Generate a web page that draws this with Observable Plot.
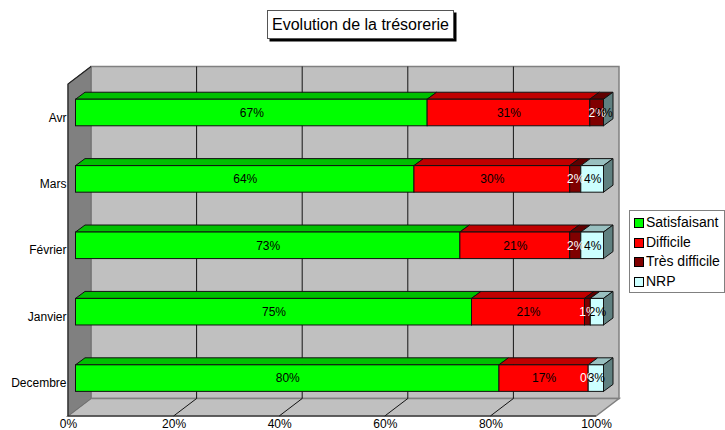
<!DOCTYPE html>
<html><head><meta charset="utf-8">
<script src="https://cdn.jsdelivr.net/npm/d3@7"></script>
<script src="https://cdn.jsdelivr.net/npm/@observablehq/plot@0.6"></script>
<style>
html,body{margin:0;padding:0;background:#fff;overflow:hidden}
body{position:relative;width:725px;height:430px;font-family:"Liberation Sans",Arial,sans-serif;color:#000}
svg{display:block;position:absolute;left:0;top:0}
#title{position:absolute;left:267px;top:10px;width:185px;height:27px;line-height:27px;text-align:center;font-size:16px;border:1px solid #555;background:#fff;box-shadow:2.5px 2.5px 0 #000;white-space:nowrap;z-index:2}
#legend{position:absolute;left:629px;top:210px;width:94px;height:81px;border:1px solid #808080;background:#fff;z-index:2;box-sizing:content-box}
.row{position:absolute;left:4px;height:20px;line-height:20px;font-size:14px;white-space:nowrap;padding-left:12px}
.row i{position:absolute;left:0;top:6px;width:8px;height:8px;border:1px solid #000}
</style></head><body>
<div id="title"></div>
<div id="legend"></div>
<div id="chart"></div>
<script>
const chartTitle = "Evolution de la trésorerie";
const months = ["Avr", "Mars", "Février", "Janvier", "Decembre"];
const seriesNames = ["Satisfaisant", "Difficile", "Très difficile", "NRP"];
const satisfaisant = [66.6, 64.1, 72.8, 75.0, 80.2];
const difficile    = [30.8, 29.5, 20.8, 21.4, 16.9];
const tresDifficile= [2.6, 2.1, 2.1, 1.1, 0];
const nrp          = [0, 4.3, 4.3, 2.5, 2.9];
const labels = [
  ["67%","64%","73%","75%","80%"],
  ["31%","30%","21%","21%","17%"],
  ["2%","2%","2%","1%","0%"],
  ["0%","4%","4%","2%","3%"]
];
const frontColors = ["#00ff00", "#ff0000", "#800000", "#ccffff"];
const topColors   = ["#00c000", "#c00000", "#600000", "#99c0c0"];
const sideColor = "#608080";
const labelColors = ["#000", "#000", "#fff", "#000"];
const xTicks = [0, 20, 40, 60, 80, 100];

const seriesValues = [satisfaisant, difficile, tresDifficile, nrp];
const rows = [];
months.forEach((m, i) => {
  let start = 0;
  seriesValues.forEach((vals, s) => {
    rows.push({month: m, s, start, end: start + vals[i], label: labels[s][i]});
    start += vals[i];
  });
});

// 3D projection offsets, in pixels
const wall = {dx: 23, dy: -17.5};
const bar = {dx: 7.5, dy: -4.7};
const barDepth = {dx: 9.5, dy: -7};

const ns = "http://www.w3.org/2000/svg";
const poly = (g, pts, fill, stroke, sw = 1) => {
  const p = document.createElementNS(ns, "polygon");
  p.setAttribute("points", pts.map(d => d.join(",")).join(" "));
  p.setAttribute("fill", fill);
  p.setAttribute("stroke", stroke);
  p.setAttribute("stroke-width", sw);
  g.appendChild(p);
};
const path = (g, d, stroke, sw) => {
  const p = document.createElementNS(ns, "path");
  p.setAttribute("d", d);
  p.setAttribute("fill", "none");
  p.setAttribute("stroke", stroke);
  p.setAttribute("stroke-width", sw);
  g.appendChild(p);
};

const walls = (index, {x}, values, dims) => {
  const g = document.createElementNS(ns, "g");
  const t = dims.marginTop, b = dims.height - dims.marginBottom;
  const x0 = x(0), x1 = x(100);
  const {dx, dy} = wall;
  poly(g, [[x0+dx,t+dy],[x1+dx,t+dy],[x1+dx,b+dy],[x0+dx,b+dy]], "#c0c0c0", "#808080", 1.5);
  poly(g, [[x0,b],[x1,b],[x1+dx,b+dy],[x0+dx,b+dy]], "#c0c0c0", "#808080", 1.5);
  poly(g, [[x0,t],[x0+dx,t+dy],[x0+dx,b+dy],[x0,b]], "#808080", "#707070", 1);
  for (const v of xTicks.slice(1, -1)) {
    path(g, `M${x(v)+dx},${t+dy}V${b+dy}L${x(v)},${b}`, "#000", 0.9);
  }
  path(g, `M${x0+dx},${t+dy}L${x0},${t}V${b}H${x1}`, "#222", 1.2);
  return g;
};

const depthFaces = (index, {x, y}) => {
  const g = document.createElementNS(ns, "g");
  const h = typeof y.bandwidth === "function" ? y.bandwidth() : y.bandwidth;
  const {dx, dy} = barDepth;
  for (const r of rows) {
    const T = y(r.month) + bar.dy;
    const a = x(r.start) + bar.dx, c = x(r.end) + bar.dx;
    if (r.end > r.start) poly(g, [[a,T],[c,T],[c+dx,T+dy],[a+dx,T+dy]], topColors[r.s], "#111", 1);
    if (r.s === 3) poly(g, [[c,T],[c+dx,T+dy],[c+dx,T+h+dy],[c,T+h]], sideColor, "#111", 1);
  }
  return g;
};

const font = '"Liberation Sans", Arial, sans-serif';
const plot = Plot.plot({
  width: 725, height: 430,
  marginLeft: 68, marginRight: 129, marginTop: 84, marginBottom: 14,
  style: {fontFamily: font, fontSize: "12px", background: "transparent", color: "#000", overflow: "visible"},
  x: {domain: [0, 100], ticks: xTicks, label: null},
  y: {domain: months, paddingInner: 0.6, paddingOuter: 0.3, round: false, label: null},
  marks: [
    walls,
    depthFaces,
    Plot.barX(rows.filter(d => d.end > d.start), {
      x1: "start", x2: "end", y: "month",
      fill: d => frontColors[d.s], stroke: "#111", strokeWidth: 1,
      dx: bar.dx, dy: bar.dy
    }),
    Plot.text(rows, {
      x: d => (d.start + d.end) / 2, y: "month", text: "label",
      fill: d => labelColors[d.s], fontSize: 12,
      dx: bar.dx, dy: bar.dy
    }),
    Plot.axisX({ticks: xTicks, tickFormat: d => d + "%", tickSize: 0, tickPadding: 3, label: null, fontSize: 12}),
    Plot.axisY({tickSize: 0, tickPadding: 2, label: null, fontSize: 12})
  ]
});
document.getElementById("chart").appendChild(plot);

document.getElementById("title").textContent = chartTitle;
const legend = document.getElementById("legend");
seriesNames.forEach((name, i) => {
  const r = document.createElement("div");
  r.className = "row";
  r.style.top = (1 + i * 19.7) + "px";
  const sw = document.createElement("i");
  sw.style.background = frontColors[i];
  r.appendChild(sw);
  r.appendChild(document.createTextNode(name));
  legend.appendChild(r);
});
</script>
</body></html>
